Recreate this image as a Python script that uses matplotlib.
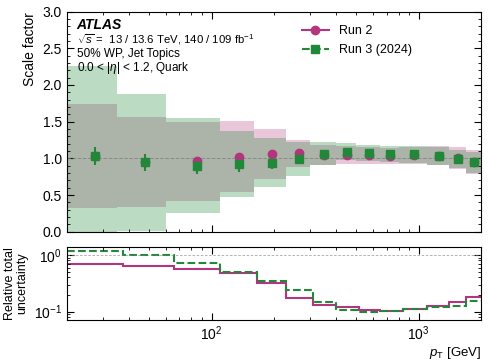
import numpy as np
import matplotlib.pyplot as plt
from matplotlib.lines import Line2D
from matplotlib.ticker import MultipleLocator, LogLocator, NullFormatter

plt.rcParams['font.family'] = ['Liberation Sans', 'DejaVu Sans']
plt.rcParams['mathtext.fontset'] = 'custom'
plt.rcParams['mathtext.rm'] = 'Liberation Sans'
plt.rcParams['mathtext.it'] = 'Liberation Sans:italic'
plt.rcParams['mathtext.bf'] = 'Liberation Sans:bold'

# pT bins [GeV]
pt_edges = [20, 35, 60, 110, 160, 230, 300, 400, 500, 650, 800, 1100, 1400, 1700, 2000]

# scale factors
sf_run2 = [1.03, 0.95, 0.96, 1.02, 1.06, 1.07, 1.05, 1.04, 1.04, 1.035, 1.045, 1.035, 1.01, 0.95]
sf_run2_err = [0.03, 0.03, 0.03, 0.02, 0.02, 0.02, 0.01, 0.01, 0.01, 0.01, 0.01, 0.01, 0.01, 0.01]
sf_run3 = [1.03, 0.945, 0.90, 0.92, 0.94, 0.99, 1.06, 1.09, 1.07, 1.055, 1.055, 1.035, 0.99, 0.945]
sf_run3_err = [0.12, 0.12, 0.12, 0.10, 0.085, 0.05, 0.03, 0.03, 0.02, 0.02, 0.02, 0.02, 0.02, 0.03]

# relative total uncertainty
relunc_run2 = [0.69, 0.65, 0.56, 0.475, 0.316, 0.174, 0.129, 0.119, 0.107, 0.104, 0.111, 0.128, 0.148, 0.179]
relunc_run3 = [1.19, 0.99, 0.72, 0.49, 0.352, 0.238, 0.148, 0.107, 0.100, 0.103, 0.111, 0.119, 0.128, 0.152]

c_run2 = '#b2357d'
c_run3 = '#21883a'

edges = np.array(pt_edges, dtype=float)
centers = 0.5 * (edges[:-1] + edges[1:])
sf2 = np.array(sf_run2)
sf3 = np.array(sf_run3)
u2 = np.array(relunc_run2)
u3 = np.array(relunc_run3)

fig = plt.figure(figsize=(4.88, 3.64), dpi=100)
ax = fig.add_axes([0.1367, 0.3635, 0.849, 0.6045])
ax2 = fig.add_axes([0.1367, 0.1209, 0.849, 0.2014], sharex=ax)

# uncertainty bands
ax.stairs(sf2 * (1 + u2), edges, baseline=sf2 * (1 - u2), fill=True,
          color=c_run2, alpha=0.28, lw=0)
ax.stairs(sf3 * (1 + u3), edges, baseline=sf3 * (1 - u3), fill=True,
          color=c_run3, alpha=0.3, lw=0)
ax.axhline(1.0, color='gray', ls='--', lw=0.7, alpha=0.8)

ax.errorbar(centers, sf2, yerr=sf_run2_err, fmt='o', color=c_run2, ms=6,
            elinewidth=1.5, capsize=0)
ax.errorbar(centers, sf3, yerr=sf_run3_err, fmt='s', color=c_run3, ms=6,
            elinewidth=1.5, capsize=0)

ax.set_xscale('log')
ax.set_xlim(20, 2000)
ax.set_ylim(0, 3)
ax.yaxis.set_major_locator(MultipleLocator(0.5))
ax.yaxis.set_minor_locator(MultipleLocator(0.1))
ax.set_ylabel('Scale factor', fontsize=10, loc='top')
plt.setp(ax.get_xticklabels(), visible=False)

ax.text(0.024, 0.939, 'ATLAS', transform=ax.transAxes, fontsize=10,
        fontweight='bold', fontstyle='italic', va='center')
ax.text(0.024, 0.871, r'$\sqrt{s}$ =  13 / 13.6 TeV, 140 / 109 fb$^{-1}$',
        transform=ax.transAxes, fontsize=8.2, va='center')
ax.text(0.024, 0.808, '50% WP, Jet Topics', transform=ax.transAxes,
        fontsize=8.5, va='center')
ax.text(0.024, 0.743, r'0.0 < |$\eta$| < 1.2, Quark', transform=ax.transAxes,
        fontsize=8.5, va='center')

handles = [Line2D([], [], color=c_run2, marker='o', ms=6, ls='-', lw=1.5),
           Line2D([], [], color=c_run3, marker='s', ms=6, ls='--', lw=1.5)]
ax.legend(handles, ['Run 2', 'Run 3 (2024)'], loc='upper left',
          bbox_to_anchor=(0.54, 0.99), frameon=False, fontsize=9,
          handlelength=2.2, handletextpad=0.8, labelspacing=0.55)

# ratio panel: steps between neighbouring bin centres
step_edges = np.concatenate([[edges[0]], 0.5 * (centers[:-1] + centers[1:]), [edges[-1]]])
ax2.stairs(u2, step_edges, color=c_run2, lw=1.5, baseline=None)
ax2.stairs(u3, step_edges, color=c_run3, lw=1.5, ls='--', baseline=None)
ax2.axhline(1.0, color='gray', ls='--', lw=0.6, alpha=0.7, dashes=(3, 2))
ax2.set_yscale('log')
ax2.set_ylim(0.071, 1.4)
ax2.yaxis.set_minor_locator(LogLocator(base=10, subs=np.arange(2, 10) * 0.1 * 10))
ax2.yaxis.set_minor_formatter(NullFormatter())
ax2.set_ylabel('Relative total\nuncertainty', fontsize=9, linespacing=1.0)
ax2.set_xlabel(r'$p_{\mathrm{T}}$ [GeV]', fontsize=9.5, loc='right', labelpad=1)

for a in (ax, ax2):
    a.tick_params(which='both', direction='in', top=True, right=True, labelsize=10)
    a.tick_params(which='major', length=5)
    a.tick_params(which='minor', length=2.5)
ax.xaxis.set_minor_formatter(NullFormatter())
ax2.xaxis.set_minor_formatter(NullFormatter())

fig.align_ylabels([ax, ax2])
fig.savefig('out.png', dpi=100)
